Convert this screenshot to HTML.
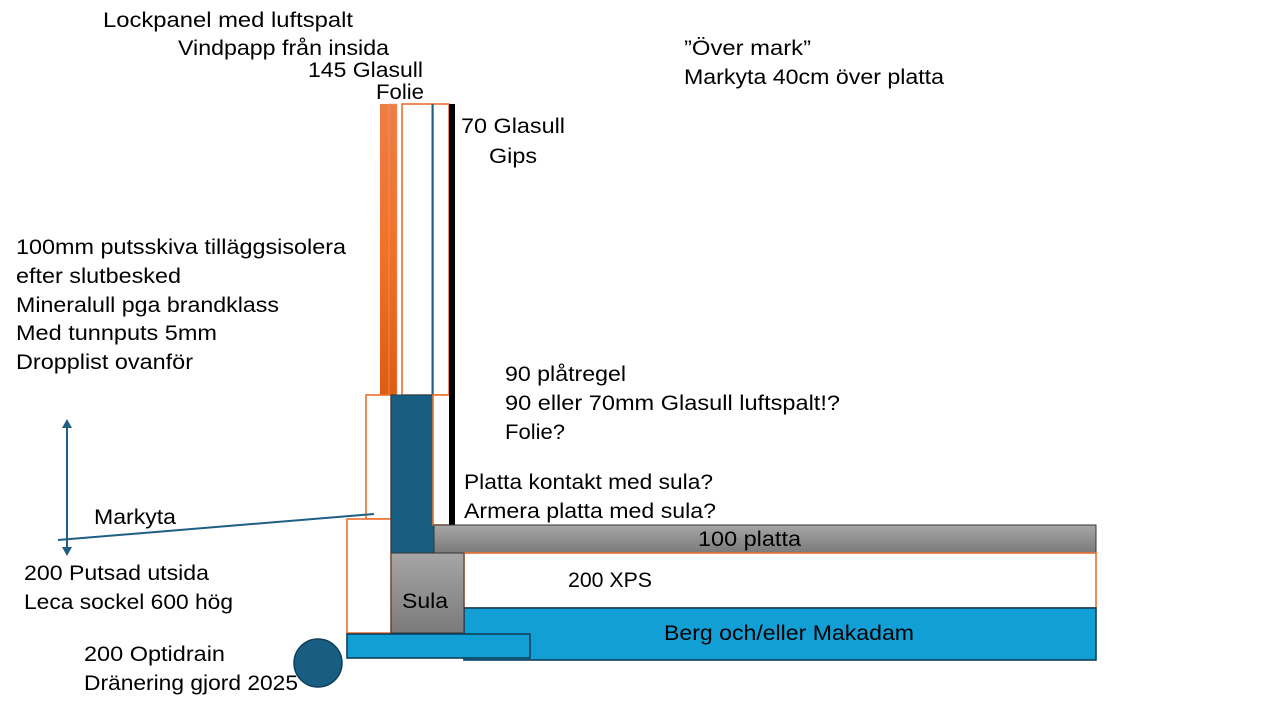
<!DOCTYPE html>
<html><head><meta charset="utf-8"><style>
html,body{margin:0;padding:0;background:#fff;width:1276px;height:711px;overflow:hidden}
svg text{font-family:"Liberation Sans",sans-serif;font-size:21px;fill:#000}
</style></head><body>
<svg width="1276" height="711" viewBox="0 0 1276 711" xmlns="http://www.w3.org/2000/svg">
<defs>
<linearGradient id="og" x1="0" y1="0" x2="0" y2="1"><stop offset="0" stop-color="#ee7d45"/><stop offset="0.5" stop-color="#f07228"/><stop offset="1" stop-color="#de5c14"/></linearGradient>
<linearGradient id="gg" x1="0" y1="0" x2="0" y2="1"><stop offset="0" stop-color="#a6a6a6"/><stop offset="1" stop-color="#7a7a7a"/></linearGradient>
</defs>
<rect x="380" y="104" width="9" height="291" fill="url(#og)"/>
<rect x="389" y="104" width="8" height="291" fill="url(#og)" stroke="#f0a070" stroke-width="0.6"/>
<rect x="402" y="104" width="31" height="291" fill="#fff" stroke="#ed7030" stroke-width="1.6"/>
<rect x="433" y="104" width="16" height="291" fill="#fff" stroke="#ed7030" stroke-width="1.6"/>
<line x1="432.5" y1="104" x2="432.5" y2="395" stroke="#1f5f85" stroke-width="2"/>
<rect x="366" y="395" width="25" height="124" fill="#fff" stroke="#ed7030" stroke-width="1.6"/>
<rect x="347" y="519" width="44" height="114" fill="#fff" stroke="#ed7030" stroke-width="1.6"/>
<rect x="391" y="395" width="43" height="158" fill="#175e82" stroke="#0f3f5a" stroke-width="1"/>
<rect x="433" y="395" width="17" height="130" fill="#fff" stroke="#ed7030" stroke-width="1.6"/>
<rect x="449" y="104" width="6" height="421" fill="#000"/>
<rect x="434" y="525" width="662" height="28" fill="url(#gg)" stroke="#333" stroke-width="1"/>
<rect x="464" y="553" width="632" height="55" fill="#fff" stroke="#ed7030" stroke-width="1.6"/>
<rect x="464" y="608" width="632" height="52" fill="#119fd6" stroke="#0f3f5a" stroke-width="1.6"/>
<rect x="391" y="553" width="73" height="80" fill="url(#gg)" stroke="#333" stroke-width="1"/>
<rect x="347" y="634" width="183" height="24" fill="#119fd6" stroke="#0f3f5a" stroke-width="1.6"/>
<circle cx="318" cy="663" r="24" fill="#175e82" stroke="#0f3f5a" stroke-width="1.5"/>
<line x1="58" y1="540" x2="374" y2="514" stroke="#1f5f85" stroke-width="2"/>
<line x1="67" y1="426" x2="67" y2="550" stroke="#1f5f85" stroke-width="2"/>
<polygon points="67,419 62,428 72,428" fill="#1f5f85"/>
<polygon points="67,556 62,547 72,547" fill="#1f5f85"/>
<g>
<text x="103" y="27" textLength="250" lengthAdjust="spacingAndGlyphs">Lockpanel med luftspalt</text>
<text x="178" y="55" textLength="211" lengthAdjust="spacingAndGlyphs">Vindpapp från insida</text>
<text x="308" y="77" textLength="115" lengthAdjust="spacingAndGlyphs">145 Glasull</text>
<text x="376" y="99" textLength="48" lengthAdjust="spacingAndGlyphs">Folie</text>
<text x="684" y="55" textLength="127" lengthAdjust="spacingAndGlyphs">”Över mark”</text>
<text x="684" y="84" textLength="260" lengthAdjust="spacingAndGlyphs">Markyta 40cm över platta</text>
<text x="461" y="133" textLength="104" lengthAdjust="spacingAndGlyphs">70 Glasull</text>
<text x="489" y="163" textLength="48" lengthAdjust="spacingAndGlyphs">Gips</text>
<text x="16" y="254" textLength="330" lengthAdjust="spacingAndGlyphs">100mm putsskiva tilläggsisolera</text>
<text x="16" y="283" textLength="165" lengthAdjust="spacingAndGlyphs">efter slutbesked</text>
<text x="16" y="312" textLength="263" lengthAdjust="spacingAndGlyphs">Mineralull pga brandklass</text>
<text x="16" y="340" textLength="201" lengthAdjust="spacingAndGlyphs">Med tunnputs 5mm</text>
<text x="16" y="369" textLength="177" lengthAdjust="spacingAndGlyphs">Dropplist ovanför</text>
<text x="505" y="381" textLength="121" lengthAdjust="spacingAndGlyphs">90 plåtregel</text>
<text x="505" y="410" textLength="335" lengthAdjust="spacingAndGlyphs">90 eller 70mm Glasull luftspalt!?</text>
<text x="505" y="439" textLength="60" lengthAdjust="spacingAndGlyphs">Folie?</text>
<text x="464" y="489" textLength="249" lengthAdjust="spacingAndGlyphs">Platta kontakt med sula?</text>
<text x="464" y="518" textLength="252" lengthAdjust="spacingAndGlyphs">Armera platta med sula?</text>
<text x="94" y="524" textLength="82" lengthAdjust="spacingAndGlyphs">Markyta</text>
<text x="698" y="546" textLength="103" lengthAdjust="spacingAndGlyphs">100 platta</text>
<text x="568" y="587" textLength="84" lengthAdjust="spacingAndGlyphs">200 XPS</text>
<text x="24" y="580" textLength="185" lengthAdjust="spacingAndGlyphs">200 Putsad utsida</text>
<text x="24" y="609" textLength="209" lengthAdjust="spacingAndGlyphs">Leca sockel 600 hög</text>
<text x="402" y="608" textLength="46" lengthAdjust="spacingAndGlyphs">Sula</text>
<text x="664" y="640" textLength="250" lengthAdjust="spacingAndGlyphs">Berg och/eller Makadam</text>
<text x="84" y="661" textLength="141" lengthAdjust="spacingAndGlyphs">200 Optidrain</text>
<text x="84" y="690" textLength="214" lengthAdjust="spacingAndGlyphs">Dränering gjord 2025</text>
</g>
</svg>
</body></html>
